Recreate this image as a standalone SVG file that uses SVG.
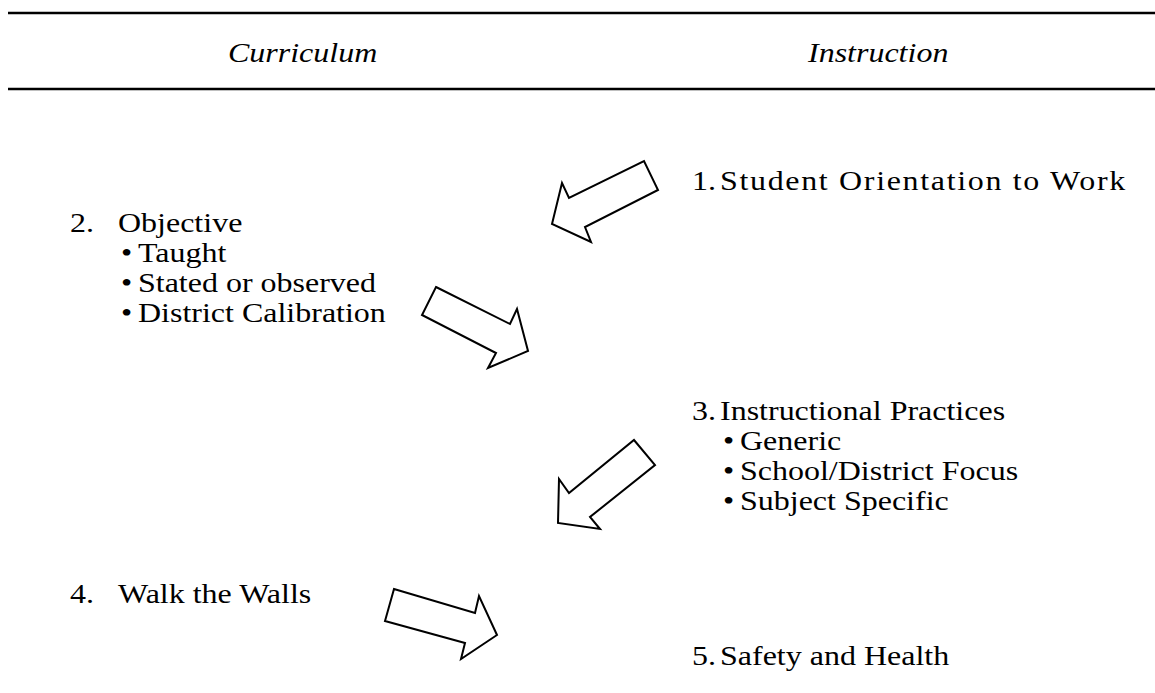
<svg xmlns="http://www.w3.org/2000/svg" width="1155" height="693" viewBox="0 0 1155 693">
<style>
text{font-family:"Liberation Serif","Times New Roman",serif;font-size:27px;fill:#000}
.it{font-style:italic}
.rule{stroke:#000;stroke-width:2.5}
.arr{fill:#fff;stroke:#000;stroke-width:2;stroke-linejoin:miter}
</style>
<rect width="1155" height="693" fill="#fff"/>
<g id="header">
<line class="rule" x1="8" y1="13" x2="1155" y2="13"/>
<line class="rule" x1="8" y1="89" x2="1155" y2="89"/>
<text class="it" transform="translate(228,62) scale(1.185,1)">Curriculum</text>
<text class="it" transform="translate(808,62) scale(1.185,1)">Instruction</text>
</g>
<g id="node1">
<text transform="translate(692,190) scale(1.185,1)">1.</text>
<text transform="translate(720,190) scale(1.185,1)" textLength="342" lengthAdjust="spacing">Student Orientation to Work</text>
</g>
<g id="node2">
<text transform="translate(70,232) scale(1.185,1)">2.</text>
<text transform="translate(118,232) scale(1.185,1)">Objective</text>
<text transform="translate(121,262) scale(1.185,1)">•</text>
<text transform="translate(138,262) scale(1.185,1)">Taught</text>
<text transform="translate(121,292) scale(1.185,1)">•</text>
<text transform="translate(138,292) scale(1.185,1)">Stated or observed</text>
<text transform="translate(121,322) scale(1.185,1)">•</text>
<text transform="translate(138,322) scale(1.185,1)">District Calibration</text>
</g>
<g id="node3">
<text transform="translate(692,420) scale(1.185,1)">3.</text>
<text transform="translate(720,420) scale(1.185,1)">Instructional Practices</text>
<text transform="translate(723,450) scale(1.185,1)">•</text>
<text transform="translate(740,450) scale(1.185,1)">Generic</text>
<text transform="translate(723,480) scale(1.185,1)">•</text>
<text transform="translate(740,480) scale(1.185,1)">School/District Focus</text>
<text transform="translate(723,510) scale(1.185,1)">•</text>
<text transform="translate(740,510) scale(1.185,1)">Subject Specific</text>
</g>
<g id="node4">
<text transform="translate(70,603) scale(1.185,1)">4.</text>
<text transform="translate(118,603) scale(1.185,1)">Walk the Walls</text>
</g>
<g id="node5">
<text transform="translate(692,665) scale(1.185,1)">5.</text>
<text transform="translate(720,665) scale(1.185,1)">Safety and Health</text>
</g>
<g id="connectors">
<polygon class="arr" points="552,224 562,183 569,198 644,161 658,190 585,227 591,242"/>
<polygon class="arr" points="436,287 510,324 517,309 528,351 488,368 496,353 422,315"/>
<polygon class="arr" points="634,440 655,465 590,517 600,529 558,523 559,479 569,493"/>
<polygon class="arr" points="394,589 475,613 479,596 497,635 461,659 465,643 385,621"/>
</g>
</svg>
